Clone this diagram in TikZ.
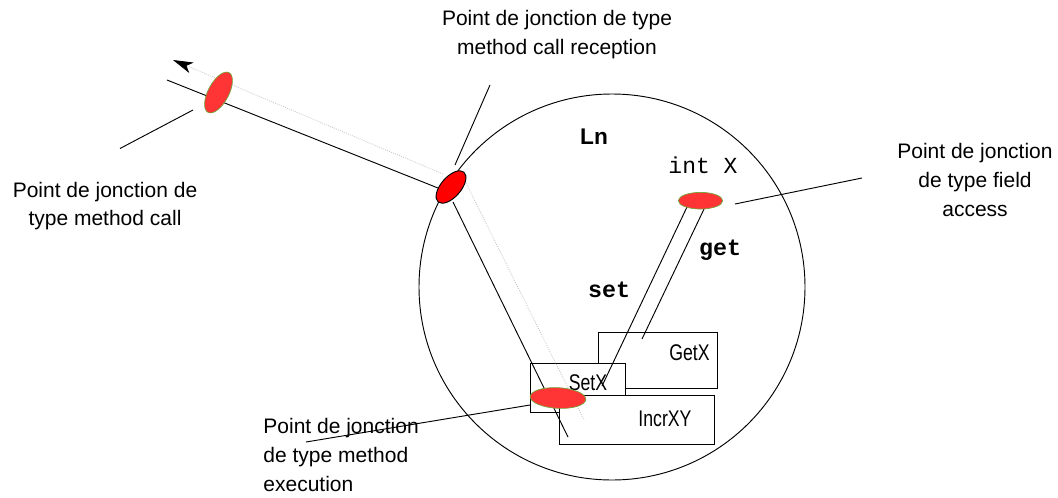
\documentclass[tikz,border=0pt]{standalone}
\usepackage{fontspec}
\setmainfont{Liberation Sans}
\newfontfamily\monofont{Liberation Mono}
\usetikzlibrary{shapes.geometric,arrows.meta}
\definecolor{jpred}{HTML}{FF3535}
\definecolor{jpgreen}{HTML}{6FA83A}
\begin{document}
\begin{tikzpicture}[x=0.75pt,y=-0.75pt,line width=0.7pt,
  lbl/.style={font=\fontsize{15.75}{21.5}\selectfont,inner sep=0pt,align=center},
  jp/.style={ellipse,fill=jpred,draw=jpgreen,line width=0.5pt,inner sep=0pt},
  jpdark/.style={ellipse,fill=red,draw=black,line width=0.7pt,inner sep=0pt},
  boxnode/.style={draw,fill=white,line width=0.7pt,inner sep=0pt,anchor=north west},
  track/.style={draw=gray!50,line width=0.6pt,densely dotted},
  code/.style={font=\monofont\fontsize{17.25}{20}\selectfont,inner sep=0pt},
  codeb/.style={font=\monofont\bfseries\fontsize{17.5}{20}\selectfont,inner sep=0pt},
  boxtext/.style={font=\fontsize{17}{20}\selectfont,inner sep=0pt},
  pointer/.style={draw=black,line width=0.7pt}
]
\useasboundingbox (0,0) rectangle (1058,497);

% component circle
\node[circle,draw,minimum size=289.5pt,inner sep=0pt,line width=0.7pt] (ln) at (612,287) {};

% boxes
\node[boxnode,minimum width=89.7pt,minimum height=42pt] (getx) at (597.7,331.7) {};
\node[boxnode,minimum width=71.25pt,minimum height=36.3pt] (setx) at (530,363.3) {};
\node[boxnode,minimum width=116pt,minimum height=36.75pt] (incr) at (559.3,395) {};

\node[boxtext] (getxt) at (689.5,352.5) {\scalebox{0.78}[1]{GetX}};
\node[boxtext] (setxt) at (588,383) {\scalebox{0.78}[1]{SetX}};
\node[boxtext] (incrt) at (665,418.5) {\scalebox{0.78}[1]{IncrXY}};

% coordinates of the message tube
\coordinate (arrowtip) at (173,60);
\coordinate (tubeL) at (167,80);
\coordinate (grayIn) at (443,174);
\coordinate (blackIn) at (438,188);
\coordinate (blackOut) at (453,202);
\coordinate (blackEnd) at (568,437);
\coordinate (grayOut) at (466,183);
\coordinate (grayEnd) at (584,420);

\draw[track,-{Stealth[color=black,length=15pt,width=8.5pt,inset=4pt]}] (grayIn) -- (arrowtip);
\draw[track] (grayOut) -- (grayEnd);
\draw (tubeL) -- (blackIn);
\draw (blackOut) -- (blackEnd);

% set / get lines
\coordinate (setA) at (687,207);
\coordinate (setB) at (602,386);
\coordinate (getA) at (705,207);
\coordinate (getB) at (642,339);
\draw (setA) -- (setB);
\draw (getA) -- (getB);

% pointers
\coordinate (p1a) at (120,148.5);
\coordinate (p1b) at (193,110);
\coordinate (p2a) at (490,85);
\coordinate (p2b) at (455,165);
\coordinate (p3a) at (735,204);
\coordinate (p3b) at (862,178);
\coordinate (p4a) at (306,442);
\coordinate (p4b) at (530,405);
\draw[pointer] (p1a) -- (p1b);
\draw[pointer] (p2a) -- (p2b);
\draw[pointer] (p3a) -- (p3b);
\draw[pointer] (p4a) -- (p4b);

% join points
\node[jp,minimum width=33.75pt,minimum height=15.5pt,rotate=62] (jcall) at (218.5,92.5) {};
\node[jpdark,minimum width=29.5pt,minimum height=15pt,rotate=49] (jrecv) at (451,187) {};
\node[jp,minimum width=33.3pt,minimum height=12.5pt] (jfield) at (700.5,200.7) {};
\node[jp,minimum width=41.8pt,minimum height=15.5pt,rotate=-3] (jexec) at (558,398) {};

% texts in the component
\node[font=\bfseries\fontsize{17}{20}\selectfont,inner sep=0pt] (lnt) at (594,137) {Ln};
\node[code] (intx) at (703,165.5) {int X};
\node[codeb] (gett) at (720,250) {get};
\node[codeb] (sett) at (609,290) {set};

% labels
\node[lbl,anchor=north] (l1) at (105,181.5) {Point de jonction de\\type method call};
\node[lbl,anchor=north] (l2) at (557,10) {Point de jonction de type\\method call reception};
\node[lbl,anchor=north] (l3) at (975,143) {Point de jonction\\de type field\\access};
\node[lbl,anchor=north west,align=left] (l4) at (263,418) {Point de jonction\\de type method\\execution};
\end{tikzpicture}
\end{document}
